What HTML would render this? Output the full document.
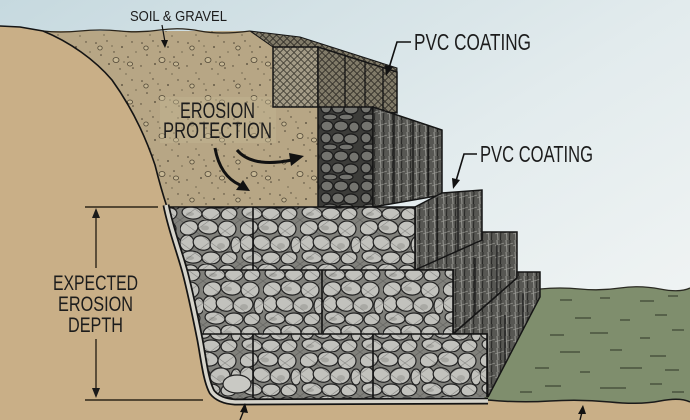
<!DOCTYPE html>
<html><head><meta charset="utf-8"><style>
html,body{margin:0;padding:0;width:690px;height:420px;overflow:hidden;background:#e6eef0}
svg{display:block}
text{font-family:"Liberation Sans",sans-serif;fill:#1c1c1c}
</style></head><body>
<svg width="690" height="420" viewBox="0 0 690 420" xmlns="http://www.w3.org/2000/svg">
<defs>
<linearGradient id="sky" x1="0" y1="0" x2="1" y2="1">
<stop offset="0" stop-color="#c6d9df"/><stop offset="0.5" stop-color="#e2ebed"/><stop offset="1" stop-color="#f5f7f6"/>
</linearGradient>
<pattern id="stone" width="60" height="44" patternUnits="userSpaceOnUse">
<rect width="60" height="44" fill="#80807b"/>
<g fill="#c2c2bd" stroke="#232323" stroke-width="1.2">
<ellipse cx="9" cy="8" rx="9" ry="7" transform="rotate(-15 9 8)"/><ellipse cx="28" cy="7" rx="10" ry="7" transform="rotate(10 28 7)"/><ellipse cx="47" cy="9" rx="9" ry="8"/>
<ellipse cx="7" cy="23" rx="7" ry="8"/><ellipse cx="22" cy="23" rx="9" ry="7" transform="rotate(20 22 23)"/><ellipse cx="40" cy="24" rx="10" ry="8" transform="rotate(-10 40 24)"/><ellipse cx="56" cy="25" rx="5" ry="8"/>
<ellipse cx="12" cy="37" rx="10" ry="6" transform="rotate(8 12 37)"/><ellipse cx="31" cy="38" rx="9" ry="6"/><ellipse cx="49" cy="38" rx="8" ry="6" transform="rotate(-12 49 38)"/>
</g>
<g fill="#a9a9a4"><ellipse cx="25" cy="8" rx="4" ry="2.5"/><ellipse cx="41" cy="26" rx="4" ry="3"/><ellipse cx="10" cy="38" rx="4" ry="2"/></g>
<path d="M0,0 L60,44 M30,0 L60,22 M0,22 L30,44 M60,0 L0,44 M30,0 L0,22 M60,22 L30,44" stroke="#333" stroke-width="0.6" opacity="0.4"/>
</pattern>
<pattern id="stone2" href="#stone" patternTransform="translate(23,17)"/>
<pattern id="stoneD" width="40" height="30" patternUnits="userSpaceOnUse">
<rect width="40" height="30" fill="#3c3c39"/>
<g fill="#74746f" stroke="#1a1a1a" stroke-width="1.2">
<ellipse cx="7" cy="6" rx="6" ry="5"/><ellipse cx="21" cy="6" rx="7" ry="5"/><ellipse cx="34" cy="7" rx="5" ry="5"/>
<ellipse cx="6" cy="18" rx="5" ry="5"/><ellipse cx="18" cy="18" rx="6" ry="5"/><ellipse cx="31" cy="19" rx="7" ry="5"/>
<ellipse cx="10" cy="27" rx="7" ry="3"/><ellipse cx="26" cy="27" rx="7" ry="3"/>
</g>
</pattern>
<pattern id="side" width="9" height="12" patternUnits="userSpaceOnUse">
<rect width="9" height="12" fill="#575753"/>
<path d="M2,0 L3,12" stroke="#8e8e89" stroke-width="1.2"/>
<path d="M6,0 L5.5,12" stroke="#262624" stroke-width="1"/>
<path d="M0,6 L9,3" stroke="#9a9a95" stroke-width="0.6"/>
</pattern>
<pattern id="mesh" width="7" height="7" patternUnits="userSpaceOnUse">
<rect width="7" height="7" fill="#a39b86"/>
<path d="M0,3.5 L3.5,0 L7,3.5 L3.5,7 Z" fill="none" stroke="#3b382f" stroke-width="0.8"/>
</pattern>
<pattern id="meshD" width="7" height="7" patternUnits="userSpaceOnUse">
<rect width="7" height="7" fill="#807a68"/>
<path d="M0,3.5 L3.5,0 L7,3.5 L3.5,7 Z" fill="none" stroke="#2d2a24" stroke-width="0.8"/>
</pattern>
<pattern id="soil" width="46" height="38" patternUnits="userSpaceOnUse">
<rect width="46" height="38" fill="#b7a685"/>
<g fill="#4b4232">
<circle cx="4" cy="5" r="0.8"/><circle cx="15" cy="3" r="0.7"/><circle cx="30" cy="9" r="0.9"/><circle cx="40" cy="4" r="0.7"/>
<circle cx="9" cy="17" r="0.8"/><circle cx="22" cy="14" r="0.7"/><circle cx="36" cy="19" r="0.8"/><circle cx="44" cy="14" r="0.6"/>
<circle cx="3" cy="28" r="0.7"/><circle cx="17" cy="26" r="0.9"/><circle cx="28" cy="31" r="0.7"/><circle cx="41" cy="30" r="0.8"/>
<circle cx="12" cy="35" r="0.6"/><circle cx="34" cy="36" r="0.6"/><circle cx="20" cy="8" r="0.6"/><circle cx="32" cy="24" r="0.6"/>
</g>
<g fill="#c7b895" stroke="#4e4534" stroke-width="0.8">
<ellipse cx="24" cy="22" rx="3" ry="2.5"/><ellipse cx="8" cy="10" rx="2.2" ry="2"/><ellipse cx="38" cy="26" rx="2.5" ry="2"/>
</g>
</pattern>
</defs>

<!-- sky -->
<rect width="690" height="420" fill="url(#sky)"/>

<!-- green ground -->
<path d="M482,402 L540,289 Q560,287 580,289 T620,288 T660,289 T690,288 L690,403 Z" fill="#7f8e6d"/>
<path d="M540,289 Q560,287 580,289 T620,288 T660,289 T690,288" fill="none" stroke="#2a2a22" stroke-width="1.3"/>
<g stroke="#2f3527" stroke-width="1">
<path d="M560,300h12 M600,298h10 M640,301h14 M668,296h10 M575,318h16 M620,320h10 M655,315h12 M550,335h14 M590,333h18 M640,338h10 M672,330h12 M560,352h20 M610,350h12 M650,356h16 M535,368h14 M580,372h10 M620,368h22 M665,370h14 M545,386h16 M600,388h26 M650,384h12 M672,392h12 M520,392h12"/>
</g>

<!-- bank + bottom ground -->
<path d="M0,26 L20,27 L43,31 C70,42 95,60 112,80 C130,105 145,135 155,165 C160,185 164,198 167,207 C172,230 180,250 186,272 C192,295 197,320 201,340 C205,362 207,380 213,391 Q219,399 235,400 L488,400 Q520,403 550,401 T610,402 T660,401 T690,402 L690,420 L0,420 Z" fill="#c9af87"/>
<path d="M488,400 Q520,403 550,401 T610,402 T660,401 T690,402" fill="none" stroke="#1a1a1a" stroke-width="1.5"/>

<!-- soil -->
<path d="M43,31 L250,31 L273,47 L273,107 L318,107 L318,207 L167,207 C164,198 160,185 155,165 C145,135 130,105 112,80 C95,60 70,42 43,31 Z" fill="url(#soil)"/>
<rect x="160" y="97" width="116" height="46" fill="#c4b593" opacity="0.45"/>
<path d="M43,31 Q60,33 80,31 T120,31 T160,30 T200,31 T250,31" fill="none" stroke="#2a241a" stroke-width="1.3"/>
<path d="M0,26 L20,27 L43,31 C70,42 95,60 112,80 C130,105 145,135 155,165 C160,185 164,198 167,207" fill="none" stroke="#141414" stroke-width="1.6"/>

<!-- Tier A (PVC) -->
<path d="M250,31 L300,37 L397,68 L397,73 L318,47 L273,47 Z" fill="url(#meshD)" stroke="#151515" stroke-width="1"/>
<rect x="273" y="47" width="45" height="60" fill="url(#mesh)" stroke="#151515" stroke-width="1.5"/>
<path d="M318,47 L397,72 L397,113 L318,107 Z" fill="url(#meshD)" stroke="#151515" stroke-width="1.5"/>
<path d="M345,56 V109 M365,62 V110 M383,68 V112" stroke="#151515" stroke-width="1.3"/>

<!-- Tier B -->
<rect x="318" y="107" width="55" height="100" fill="url(#stoneD)" stroke="#151515" stroke-width="1.5"/>
<path d="M373,107 L442,130 L442,195 L373,207 Z" fill="url(#side)" stroke="#151515" stroke-width="1.5"/>
<path d="M394,114 V204 M413,120 V200 M428,125 V197" stroke="#151515" stroke-width="1.3"/>

<!-- Tier C side -->
<path d="M415,207 L442,193 L482,190 L482,262 L415,270 Z" fill="url(#side)" stroke="#151515" stroke-width="1.5"/>
<path d="M437,198 V268 M458,192 V266" stroke="#151515" stroke-width="1.2"/>
<!-- Tier D side -->
<path d="M415,270 L482,240 L482,232 L517,232 L517,278 L453,334 L453,270 Z" fill="url(#side)" stroke="#151515" stroke-width="1.5"/>
<path d="M475,258 V315 M497,245 V296" stroke="#151515" stroke-width="1.2"/>
<!-- Tier E side -->
<path d="M453,334 L517,278 L517,272 L540,272 L540,297 L488,397 L487,334 Z" fill="url(#side)" stroke="#151515" stroke-width="1.5"/>
<path d="M505,315 V364 M523,293 V330" stroke="#151515" stroke-width="1.2"/>

<!-- fronts C, D, E -->
<path d="M168,207 L415,207 L415,270 L186,270 C180,250 172,230 168,207 Z" fill="url(#stone)"/>
<path d="M186,270 L453,270 L453,334 L201,334 C197,320 192,295 186,272 Z" fill="url(#stone2)"/>
<path d="M201,334 L487,334 L487,397 L235,399 Q219,398 213,390 C207,380 205,362 201,340 Z" fill="url(#stone)"/>
<path d="M168,207 H415 V270 M186,270 H453 V334 M201,334 H487 V397 M253,207 V270 M322,270 V334 M253,334 V398 M373,334 V398" fill="none" stroke="#121212" stroke-width="1.6"/>
<!-- geotextile strip -->
<path d="M166,205 C171,230 179,250 185,272 C191,295 196,320 200,340 C204,362 206,381 212,392 Q219,401 235,402 L488,401" fill="none" stroke="#141414" stroke-width="7"/>
<path d="M166,205 C171,230 179,250 185,272 C191,295 196,320 200,340 C204,362 206,381 212,392 Q219,401 235,402 L488,401" fill="none" stroke="#d6d4cb" stroke-width="3.5"/>
<ellipse cx="237" cy="384" rx="14" ry="9" fill="#c9c9c4" stroke="#222" stroke-width="1.2"/>

<!-- erosion arrows -->
<path d="M215,148 Q220,176 240,185" fill="none" stroke="#111" stroke-width="3"/>
<path d="M250,191 L236,190 L243,180 Z" fill="#111"/>
<path d="M237,150 Q252,168 292,160" fill="none" stroke="#111" stroke-width="3"/>
<path d="M304,156 L291,166 L289,153 Z" fill="#111"/>

<!-- labels -->
<text x="130" y="21" font-size="15" textLength="97" lengthAdjust="spacingAndGlyphs">SOIL &amp; GRAVEL</text>
<path d="M162,25 L165,42" stroke="#111" stroke-width="1.2"/>
<path d="M165,48 L161,40 L168,40 Z" fill="#111"/>

<text x="180" y="118" font-size="22" textLength="75" lengthAdjust="spacingAndGlyphs">EROSION</text>
<text x="163" y="138" font-size="22" textLength="109" lengthAdjust="spacingAndGlyphs">PROTECTION</text>

<text x="414" y="50" font-size="23" textLength="117" lengthAdjust="spacingAndGlyphs">PVC COATING</text>
<path d="M411,42 L397,42 L389,68" fill="none" stroke="#111" stroke-width="1.6"/>
<path d="M386,76 L385,65 L393,67 Z" fill="#111"/>

<text x="480" y="162" font-size="23" textLength="113" lengthAdjust="spacingAndGlyphs">PVC COATING</text>
<path d="M477,154 L464,154 L456,181" fill="none" stroke="#111" stroke-width="1.6"/>
<path d="M453,189 L452,178 L460,180 Z" fill="#111"/>

<text x="53" y="290" font-size="21" textLength="85" lengthAdjust="spacingAndGlyphs">EXPECTED</text>
<text x="58" y="311" font-size="21" textLength="75" lengthAdjust="spacingAndGlyphs">EROSION</text>
<text x="68" y="332" font-size="21" textLength="55" lengthAdjust="spacingAndGlyphs">DEPTH</text>

<!-- dimension -->
<g stroke="#2e2619" stroke-width="1.4">
<path d="M85,207 H158 M85,400 H203 M96,216 V268 M96,339 V390"/>
</g>
<path d="M96,208 L92,218 L100,218 Z M96,398 L92,388 L100,388 Z" fill="#1a1a1a"/>

<!-- bottom pointers -->
<path d="M240,420 L244,410 M580,420 L582,412" stroke="#111" stroke-width="1.4"/>
<path d="M245,403 L240,412 L248,413 Z M583,405 L578,414 L586,414 Z" fill="#111"/>
</svg>
</body></html>
